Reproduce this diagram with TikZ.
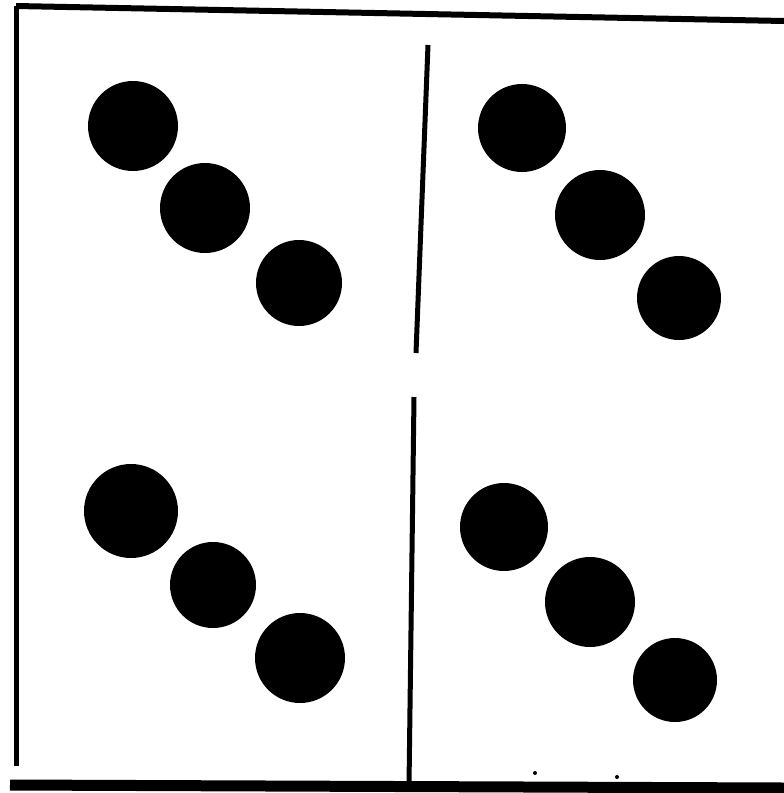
\documentclass[tikz,border=0pt]{standalone}
\begin{document}
\begin{tikzpicture}[x=1pt,y=-1pt,
  dot/.style={circle,fill=black,inner sep=0pt,minimum size=#1},
  rule/.style={line width=#1,black}]
\useasboundingbox (0,0) rectangle (784,793);
% frame
\coordinate (tl) at (16,6);
\coordinate (tr) at (784,21);
\coordinate (bl) at (16,766);
\coordinate (bbl) at (10,785);
\coordinate (bbr) at (784,788);
\coordinate (m1) at (428,45);
\coordinate (m2) at (416,353);
\coordinate (m3) at (414,397);
\coordinate (m4) at (409,786);
\draw[rule=6pt] (tl) -- (tr);
\draw[rule=5pt] (tl) -- (bl);
\draw[rule=11pt] (bbl) -- (bbr);
\draw[rule=5pt] (m1) -- (m2);
\draw[rule=5pt] (m3) -- (m4);
% dots
\node[dot=90pt] (a1) at (133,126) {};
\node[dot=90pt] (a2) at (205,208) {};
\node[dot=86pt] (a3) at (299,283) {};
\node[dot=88pt] (b1) at (522,128) {};
\node[dot=90pt] (b2) at (600,215) {};
\node[dot=84pt] (b3) at (679,298) {};
\node[dot=94pt] (c1) at (131,511) {};
\node[dot=86pt] (c2) at (213,585) {};
\node[dot=90pt] (c3) at (300,658) {};
\node[dot=88pt] (d1) at (504,527) {};
\node[dot=90pt] (d2) at (590,602) {};
\node[dot=84pt] (d3) at (675,680) {};
\fill (535,773) circle (2pt);
\fill (617,777) circle (2pt);
\end{tikzpicture}
\end{document}
